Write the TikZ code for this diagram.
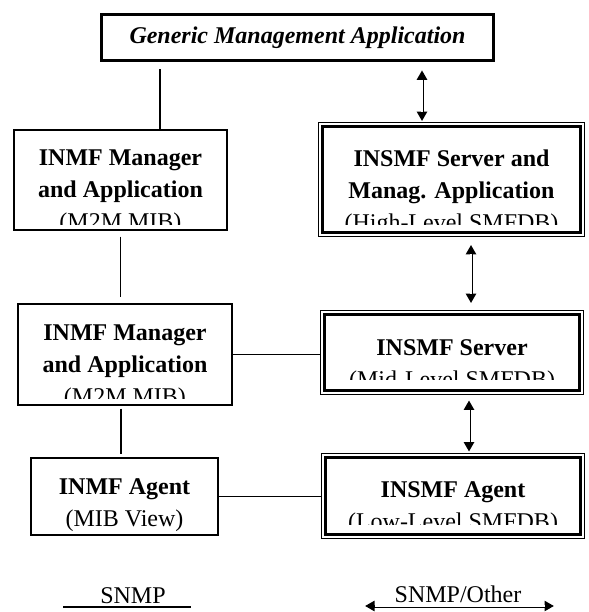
\documentclass[tikz,border=0pt]{standalone}
\usepackage{fontspec}
\setmainfont{Liberation Serif}
\usetikzlibrary{arrows.meta}

\tikzset{
  boxlabel/.style={align=center, inner sep=0pt, font=\fontsize{24}{32}\selectfont},
  unitbox/.style={draw, line width=1.4pt, inner sep=0pt},
  smfbox/.style={draw, line width=0.8pt, inner sep=0pt,
    append after command={\pgfextra{
      \draw[line width=3pt]
        ([shift={(4.5pt,-4.5pt)}]\tikzlastnode.north west) rectangle
        ([shift={(-4.5pt,4.5pt)}]\tikzlastnode.south east);}}},
  % text clipped a little above the lower edge
  boxtext/.style n args={3}{path picture={
      \clip ([yshift=#1]path picture bounding box.south west)
        rectangle (path picture bounding box.north east);
      \node[boxlabel] at ([yshift=-#2]path picture bounding box.center) {#3};}},
  snmp/.style={line width=1.2pt},
  % hollow shaft: black line, white core between the two heads
  other/.style={line width=3pt,
    {Triangle[width=10pt,length=9.5pt]}-{Triangle[width=10pt,length=9.5pt]},
    postaction={draw=white, line width=1.1pt, arrows=-,
      shorten <=9.5pt, shorten >=9.5pt}},
}

\begin{document}
\begin{tikzpicture}[x=1pt, y=-1pt]
  \useasboundingbox (0,0) rectangle (588,612);

  \node[draw, line width=2.6pt, minimum width=392pt, minimum height=46pt,
        font=\fontsize{24}{32}\selectfont] (gma) at (297.5,37.5)
        {\textbf{\textit{Generic Management Application}}};

  % INMF side
  \node[unitbox, minimum width=213pt, minimum height=100pt,
        boxtext={6pt}{12.5pt}{\textbf{INMF Manager}\\\textbf{and Application}\\(M2M MIB)}]
        (mgrA) at (120.5,180) {};
  \node[unitbox, minimum width=214pt, minimum height=101pt,
        boxtext={7pt}{13pt}{\textbf{INMF Manager}\\\textbf{and Application}\\(M2M MIB)}]
        (mgrB) at (125,354.5) {};
  \node[unitbox, minimum width=187pt, minimum height=77pt,
        boxtext={0pt}{9pt}{\textbf{INMF Agent}\\(MIB View)}]
        (agtL) at (124.5,496.5) {};

  % INSMF side
  \node[smfbox, minimum width=266pt, minimum height=114pt,
        boxtext={12pt}{13pt}{\textbf{INSMF Server and}\\\textbf{Manag. Application}\\(High-Level SMFDB)}]
        (srvHigh) at (451.5,179.5) {};
  \node[smfbox, minimum width=263pt, minimum height=84pt,
        boxtext={15pt}{14pt}{\textbf{INSMF Server}\\(Mid-Level SMFDB)}]
        (srvMid) at (452,352.5) {};
  \node[smfbox, minimum width=263pt, minimum height=85pt,
        boxtext={14pt}{12.5pt}{\textbf{INSMF Agent}\\(Low-Level SMFDB)}]
        (agtR) at (453,496) {};

  % SNMP links
  \draw[snmp, shorten >=7pt] ([xshift=39.5pt]mgrA.north) -- ([xshift=39.5pt]mgrA.north |- gma.south);
  \draw[snmp, shorten <=6pt, shorten >=6pt] (mgrA.south) -- (mgrA.south |- mgrB.north);
  \draw[snmp, shorten <=3pt, shorten >=3pt] ([xshift=-4pt]mgrB.south) -- ([xshift=-4pt]mgrB.south |- agtL.north);
  \draw[snmp] (mgrB.east) -- (mgrB.east -| srvMid.west);
  \draw[snmp] (agtL.east) -- (agtL.east -| agtR.west);

  % SNMP/Other links
  \draw[other] ([xshift=-29.5pt,yshift=1pt]srvHigh.north) -- ([xshift=-29.5pt,yshift=-8.5pt]srvHigh.north |- gma.south);
  \draw[other] ([xshift=19.5pt,yshift=-8pt]srvHigh.south) -- ([xshift=19.5pt,yshift=7pt]srvHigh.south |- srvMid.north);
  \draw[other] ([xshift=17pt,yshift=-5.5pt]srvMid.south) -- ([xshift=17pt,yshift=1.5pt]srvMid.south |- agtR.north);

  % key
  \node[boxlabel, anchor=base] (keySnmp) at (133,603) {SNMP};
  \coordinate (keyLineA) at (63,607);
  \coordinate (keyLineB) at (191,607);
  \draw[snmp] (keyLineA) -- (keyLineB);
  \node[boxlabel, anchor=base] (keyOther) at (458,602) {SNMP/Other};
  \coordinate (keyArrA) at (365,606);
  \coordinate (keyArrB) at (554,606);
  \draw[other] (keyArrA) -- (keyArrB);
\end{tikzpicture}
\end{document}
